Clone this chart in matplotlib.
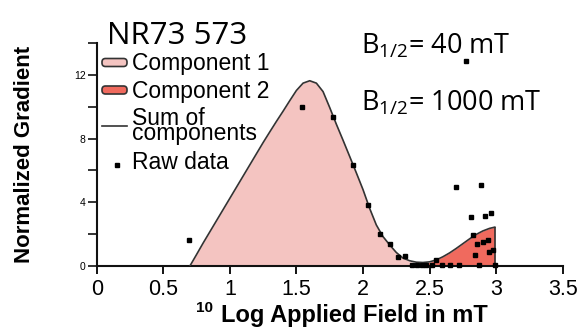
import matplotlib
matplotlib.use("Agg")
import matplotlib.pyplot as plt
from matplotlib.patches import FancyBboxPatch
from matplotlib.lines import Line2D

# ---- data ----
x_grid = [0.70, 0.75, 0.80, 0.85, 0.90, 0.95, 1.00, 1.05, 1.10, 1.15, 1.20, 1.25,
          1.30, 1.35, 1.40, 1.45, 1.50, 1.55, 1.60, 1.65, 1.70, 1.75, 1.80, 1.85,
          1.90, 1.95, 2.00, 2.05, 2.10, 2.15, 2.20, 2.25, 2.30, 2.35, 2.40, 2.45,
          2.50, 2.55, 2.60, 2.65, 2.70, 2.75, 2.80, 2.85, 2.90, 2.95, 2.99]
component1 = [0.00, 0.72, 1.45, 2.15, 2.85, 3.55, 4.25, 4.95, 5.65, 6.35, 7.05, 7.75,
              8.42, 9.08, 9.72, 10.38, 11.02, 11.48, 11.63, 11.48, 10.95, 9.95, 8.90, 7.90,
              6.88, 5.85, 4.80, 3.62, 2.58, 1.85, 1.33, 0.85, 0.48, 0.28, 0.15, 0.07,
              0.03, 0.01, 0.00, 0.00, 0.00, 0.00, 0.00, 0.00, 0.00, 0.00, 0.00]
component2 = [0.00, 0.00, 0.00, 0.00, 0.00, 0.00, 0.00, 0.00, 0.00, 0.00, 0.00, 0.00,
              0.00, 0.00, 0.00, 0.00, 0.00, 0.00, 0.00, 0.00, 0.00, 0.00, 0.00, 0.00,
              0.00, 0.00, 0.00, 0.00, 0.00, 0.00, 0.00, 0.00, 0.02, 0.05, 0.09, 0.15,
              0.23, 0.37, 0.58, 0.82, 1.10, 1.40, 1.70, 1.98, 2.20, 2.36, 2.44]
raw_x = [0.695, 1.539, 1.776, 1.927, 2.040, 2.127, 2.200, 2.265, 2.315, 2.365, 2.402,
         2.440, 2.477, 2.515, 2.552, 2.590, 2.652, 2.697, 2.720, 2.773, 2.808, 2.827,
         2.842, 2.857, 2.870, 2.885, 2.898, 2.915, 2.940, 2.950, 2.958, 2.980, 2.990]
raw_y = [1.63, 9.96, 9.35, 6.35, 3.81, 2.03, 1.36, 0.55, 0.60, 0.05, 0.05,
         0.05, 0.05, 0.05, 0.36, 0.05, 0.05, 4.93, 0.05, 12.89, 3.06, 1.92,
         0.69, 1.38, 0.05, 5.08, 1.53, 3.12, 1.65, 0.90, 3.35, 1.00, 0.05]
sum_components = [a + b for a, b in zip(component1, component2)]

x_ticks = [0, 0.5, 1, 1.5, 2, 2.5, 3, 3.5]
x_tick_labels = ["0", "0.5", "1", "1.5", "2", "2.5", "3", "3.5"]
y_ticks = [0, 2, 4, 6, 8, 10, 12, 14]
y_tick_labels = ["0", "", "4", "", "8", "", "12", ""]

title = "NR73 573"
b_half_1 = r"$\mathrm{B}_{\mathrm{1/2}}$= 40 mT"
b_half_2 = r"$\mathrm{B}_{\mathrm{1/2}}$= 1000 mT"
legend_labels = ["Component 1", "Component 2", "Sum of\ncomponents", "Raw data"]

PINK = "#f4c4c1"
RED = "#f06a5e"
LINE = "#333333"

plt.rcParams["font.family"] = ["Liberation Sans", "DejaVu Sans"]
plt.rcParams["mathtext.fontset"] = "custom"
plt.rcParams["mathtext.rm"] = "Open Sans"
plt.rcParams["mathtext.it"] = "Open Sans"

W, H = 587, 327
fig = plt.figure(figsize=(W / 100, H / 100), dpi=100)

def fx(px):
    return px / W

def fy(py):
    return 1 - py / H

ax = fig.add_axes([fx(96.7), fy(266), fx(562.7) - fx(96.7), fy(43) - fy(266)])

ax.fill_between(x_grid, 0, component1, color=PINK, lw=0, zorder=1)
ax.fill_between(x_grid, 0, component2, color=RED, lw=0, zorder=2)
ax.plot(x_grid, sum_components, color=LINE, lw=1.2, zorder=3)
ax.vlines(x_grid[-1], 0, sum_components[-1], color=LINE, lw=1.2, zorder=3)
ax.plot(raw_x, raw_y, ls="none", marker="s", ms=3.0, color="black", zorder=4,
        clip_on=False)

ax.set_xlim(0, 3.5)
ax.set_ylim(0, 14)
ax.set_xticks(x_ticks)
ax.set_xticklabels(x_tick_labels, fontsize=15.5)
ax.set_yticks(y_ticks)
ax.set_yticklabels(y_tick_labels, fontsize=7.5)
for s in ["top", "right"]:
    ax.spines[s].set_visible(False)
for s in ["left", "bottom"]:
    ax.spines[s].set_linewidth(1.5)
    ax.spines[s].set_color("#111111")
ax.tick_params(axis="x", length=6, width=1.4, pad=3.5, color="#111111")
ax.tick_params(axis="y", length=6.5, width=1.2, pad=1.5, color="#111111")

# ---- legend (drawn as key artists + text, in figure pixel positions) ----
hx0, hx1, tx = 102, 127, 132
LFS = 16.5
for color, yc in [(PINK, 62.5), (RED, 90.0)]:
    fig.add_artist(FancyBboxPatch((fx(hx0), fy(yc + 4)), fx(hx1) - fx(hx0),
                                  fy(yc - 4) - fy(yc + 4),
                                  boxstyle="round,pad=0,rounding_size=0.006",
                                  mutation_aspect=W / H,
                                  facecolor=color, edgecolor=LINE, lw=1.2,
                                  transform=fig.transFigure))
fig.add_artist(Line2D([fx(hx0), fx(hx1)], [fy(126), fy(126)], color=LINE, lw=1.2,
                      transform=fig.transFigure))
fig.add_artist(Line2D([fx(116.7)], [fy(165)], ls="none", marker="s", ms=3.0,
                      color="black", transform=fig.transFigure))
for label, base in zip(legend_labels, [70, 98.3, 140, 169]):
    fig.text(fx(tx), fy(base), label, fontsize=LFS, ha="left", va="baseline",
             linespacing=0.58)

# texts
fig.text(fx(107), fy(43.5), title, fontsize=22.5, family="Open Sans",
         ha="left", va="baseline")
fig.text(fx(361), fy(53), b_half_1, fontsize=19.5, family="Open Sans",
         ha="left", va="baseline")
fig.text(fx(361), fy(110), b_half_2, fontsize=19.5, family="Open Sans",
         ha="left", va="baseline")

fig.text(fx(25), fy(154), "Normalized Gradient", rotation=90, fontsize=16,
         fontweight="bold", ha="center", va="center")
fig.text(fx(221), fy(322), "Log Applied Field in mT", fontsize=17,
         fontweight="bold", ha="left", va="baseline")
fig.text(fx(196), fy(311.5), "10", fontsize=11, fontweight="bold",
         ha="left", va="baseline")

fig.savefig("out.png", dpi=100)
